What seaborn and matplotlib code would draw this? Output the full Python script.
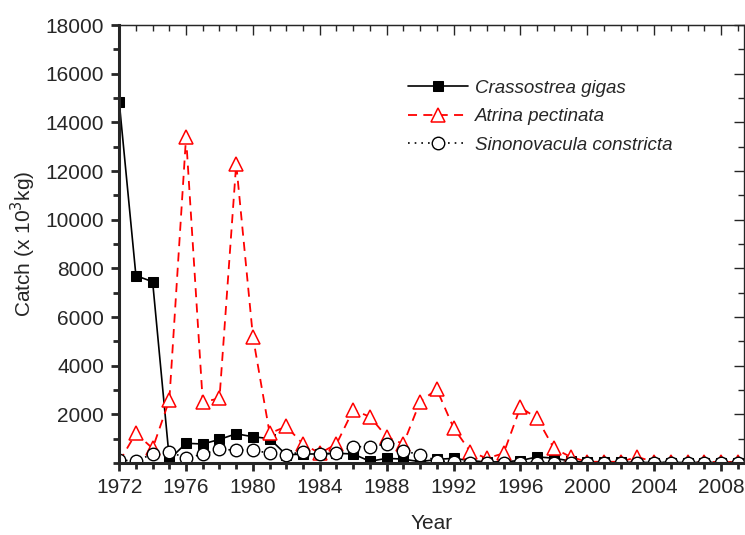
import numpy as np
import pandas as pd
import matplotlib
matplotlib.use("Agg")
import matplotlib.pyplot as plt
import seaborn as sns
from matplotlib.ticker import MultipleLocator

# Catch data (x 10^3 kg)
years = list(range(1972, 2010))

crassostrea = [14850, 7700, 7450, 150, 810, 780, 970, 1200, 1080, 1000,
               330, 370, 370, 400, 370, 70, 190, 160, 50, 150,
               190, 100, 40, 50, 100, 250, 200, 80, 30, 30,
               30, 20, 20, 20, 20, 20, 20, 20]

atrina = [50, 1220, 600, 2590, 13400, 2500, 2660, 12300, 5190, 1220,
          1500, 780, 400, 780, 2180, 1900, 1080, 780, 2520, 3030,
          1450, 470, 190, 400, 2290, 1840, 610, 250, 50, 50,
          50, 250, 40, 40, 40, 40, 40, 40]

sinonovacula = [120, 80, 370, 470, 190, 370, 560, 530, 530, 400,
                330, 470, 370, 400, 670, 670, 780, 510, 330, 100,
                30, 20, 20, 20, 20, 20, 20, 20, 20, 20,
                20, 20, 20, 20, 20, 20, 20, 20]

df = pd.DataFrame({"Year": years,
                   "Crassostrea gigas": crassostrea,
                   "Atrina pectinata": atrina,
                   "Sinonovacula constricta": sinonovacula})

sns.set_style("ticks")
plt.rcParams["font.family"] = ["Liberation Sans", "DejaVu Sans"]

fig = plt.figure(figsize=(7.45, 5.35), dpi=100)
ax = fig.add_axes([0.16, 0.1346, 0.838, 0.8186])

sns.lineplot(data=df, x="Year", y="Crassostrea gigas", ax=ax, color="black",
             linewidth=1.2, marker="s", markersize=7, markerfacecolor="black",
             markeredgecolor="black", label="Crassostrea gigas")
sns.lineplot(data=df, x="Year", y="Atrina pectinata", ax=ax, color="red",
             linewidth=1.3, linestyle=(0, (5, 3.5)), marker="^", markersize=10,
             markerfacecolor="white", markeredgecolor="red", markeredgewidth=1.1,
             label="Atrina pectinata")
sns.lineplot(data=df, x="Year", y="Sinonovacula constricta", ax=ax, color="black",
             linewidth=1.2, linestyle=(0, (1, 3)), marker="o", markersize=9,
             markerfacecolor="white", markeredgecolor="black", markeredgewidth=1.0,
             label="Sinonovacula constricta")

ax.set_xlim(1972, 2009.35)
ax.set_ylim(0, 18000)
ax.xaxis.set_major_locator(MultipleLocator(4))
ax.xaxis.set_minor_locator(MultipleLocator(1))
ax.yaxis.set_major_locator(MultipleLocator(2000))
ax.yaxis.set_minor_locator(MultipleLocator(1000))
ax.set_yticks(range(2000, 18001, 2000))

ax.set_xlabel("Year", fontsize=15, labelpad=12)
ax.set_ylabel("Catch (x 10$^3$kg)", fontsize=15, labelpad=5)

for side in ["left", "bottom"]:
    ax.spines[side].set_linewidth(2.2)
for side in ["top", "right"]:
    ax.spines[side].set_visible(True)
    ax.spines[side].set_linewidth(0.9)

ax.tick_params(axis="both", which="major", direction="out", length=6, width=2,
               labelsize=15, pad=5)
ax.tick_params(axis="both", which="minor", direction="out", length=4, width=2)

# mirrored ticks on top and right, pointing inward
top = ax.secondary_xaxis("top")
top.xaxis.set_major_locator(MultipleLocator(4))
top.xaxis.set_minor_locator(MultipleLocator(1))
top.tick_params(which="major", direction="in", length=7, width=1, labeltop=False)
top.tick_params(which="minor", direction="in", length=4, width=1)
top.spines["top"].set_linewidth(0.9)

right = ax.secondary_yaxis("right")
right.yaxis.set_major_locator(MultipleLocator(2000))
right.yaxis.set_minor_locator(MultipleLocator(1000))
right.tick_params(which="major", direction="in", length=7, width=1, labelright=False)
right.tick_params(which="minor", direction="in", length=4, width=1)

leg = ax.legend(loc="upper left", bbox_to_anchor=(0.462, 0.875), frameon=False,
                borderpad=0, borderaxespad=0,
                prop={"style": "italic", "size": 13.5}, handlelength=3.2,
                handletextpad=0.37, labelspacing=0.6, numpoints=1)

fig.savefig("out.png", dpi=100)
